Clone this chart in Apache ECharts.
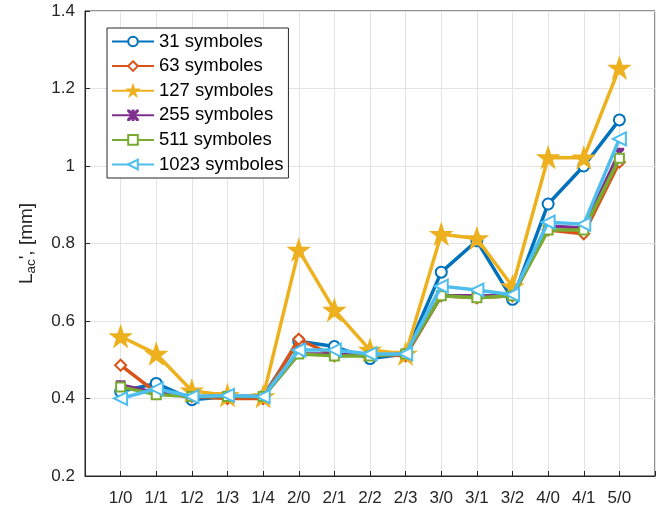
<!DOCTYPE html>
<html>
<head>
<meta charset="utf-8">
<script src="https://cdn.jsdelivr.net/npm/echarts@6/dist/echarts.min.js"></script>
<style>html,body{margin:0;padding:0;background:#fff}#c{width:658px;height:511px}</style>
</head>
<body>
<div id="c"></div>
<script>
const categories = ['1/0','1/1','1/2','1/3','1/4','2/0','2/1','2/2','2/3','3/0','3/1','3/2','4/0','4/1','5/0'];
const seriesNames = ['31 symboles','63 symboles','127 symboles','255 symboles','511 symboles','1023 symboles'];
const s31   = [0.418,0.439,0.397,0.405,0.405,0.548,0.534,0.503,0.515,0.726,0.807,0.656,0.902,1.000,1.119];
const s63   = [0.486,0.415,0.405,0.400,0.400,0.553,0.510,0.515,0.510,0.665,0.660,0.665,0.835,0.825,1.010];
const s127  = [0.560,0.515,0.420,0.408,0.405,0.783,0.628,0.525,0.515,0.824,0.813,0.689,1.022,1.021,1.253];
const s255  = [0.435,0.415,0.405,0.405,0.405,0.515,0.515,0.510,0.515,0.665,0.665,0.665,0.845,0.840,1.035];
const s511  = [0.430,0.410,0.405,0.405,0.405,0.515,0.510,0.510,0.515,0.665,0.660,0.665,0.835,0.835,1.020];
const s1023 = [0.400,0.425,0.405,0.408,0.405,0.525,0.525,0.515,0.515,0.690,0.680,0.668,0.855,0.850,1.070];
const yTicks = [0.2,0.4,0.6,0.8,1,1.2,1.4];

const colors = ['#0072BD','#D95319','#EDB120','#7E2F8E','#77AC30','#4DBEEE'];
const starPath = 'path://M50,0 L61.8,35.4 L99,35.4 L69,57.3 L80.4,92.7 L50,70.8 L19.6,92.7 L31,57.3 L1,35.4 L38.2,35.4 Z';
const asterPath = 'path://M0,0 L10,0 L100,90 L100,100 L90,100 L0,10 Z M90,0 L100,0 L100,10 L10,100 L0,100 L0,90 Z M45,0 L55,0 L55,100 L45,100 Z';

const allData = [s31, s63, s127, s255, s511, s1023];
const symbols = ['emptyCircle','emptyDiamond',starPath,asterPath,'emptyRect','emptyTriangle'];
const sizes = [11, 11, 17, 7, 9, 13];
const rotates = [0, 0, 0, 0, 0, 90];

const series = allData.map((d, i) => ({
  name: seriesNames[i],
  type: 'line',
  data: d.map((v, k) => [k + 1, v]),
  symbol: symbols[i],
  symbolSize: sizes[i],
  symbolRotate: rotates[i],
  showAllSymbol: true,
  color: colors[i],
  lineStyle: { width: 3.5, color: colors[i] },
  itemStyle: { color: colors[i], borderColor: colors[i], borderWidth: 2.6 },
  emphasis: { disabled: true },
  z: 2 + i
}));

const chart = echarts.init(document.getElementById('c'), null, { renderer: 'canvas' });
chart.setOption({
  animation: false,
  backgroundColor: '#fff',
  textStyle: { fontFamily: 'Liberation Sans, Arial, sans-serif' },
  grid: { left: 85, top: 11, bottom: 35, right: -9, show: true, borderColor: '#262626', borderWidth: 1, backgroundColor: 'transparent' },
  legend: {
    orient: 'vertical', left: 107, top: 28,
    itemWidth: 42, itemHeight: 12, itemGap: 5.6,
    padding: [4, 5, 4, 4],
    backgroundColor: '#fff', borderColor: '#262626', borderWidth: 1,
    textStyle: { fontSize: 18.5, color: '#000', fontFamily: 'Liberation Sans, Arial, sans-serif', padding: [0, 0, 0, 0] },
    data: seriesNames
  },
  xAxis: {
    type: 'value', min: 0, max: 16, interval: 1,
    axisLine: { onZero: false, lineStyle: { color: '#262626', width: 1 } },
    axisTick: { inside: true, length: 5, lineStyle: { color: '#262626' } },
    axisLabel: {
      fontSize: 17, color: '#262626', margin: 14,
      formatter: v => (v >= 1 && v <= 15 && Math.abs(v - Math.round(v)) < 1e-6) ? categories[Math.round(v) - 1] : ''
    },
    splitLine: { show: true, lineStyle: { color: '#e3e3e3', width: 1 } }
  },
  yAxis: {
    type: 'value', min: 0.2, max: 1.4, interval: 0.2,
    axisLine: { show: true, lineStyle: { color: '#262626', width: 1 } },
    axisTick: { show: true, inside: true, length: 5, lineStyle: { color: '#262626' } },
    axisLabel: {
      fontSize: 17, color: '#262626', margin: 10,
      formatter: v => String(+v.toFixed(1))
    },
    splitLine: { show: true, lineStyle: { color: '#e3e3e3', width: 1 } },
    name: "L{sub|ac}', [mm]",
    nameLocation: 'middle', nameRotate: 90, nameGap: 47,
    nameTextStyle: {
      fontSize: 19, color: '#262626',
      rich: { sub: { fontSize: 13.5, color: '#262626', verticalAlign: 'bottom', padding: [9, 0, 0, 0] } }
    }
  },
  series: series
});
</script>
</body>
</html>
